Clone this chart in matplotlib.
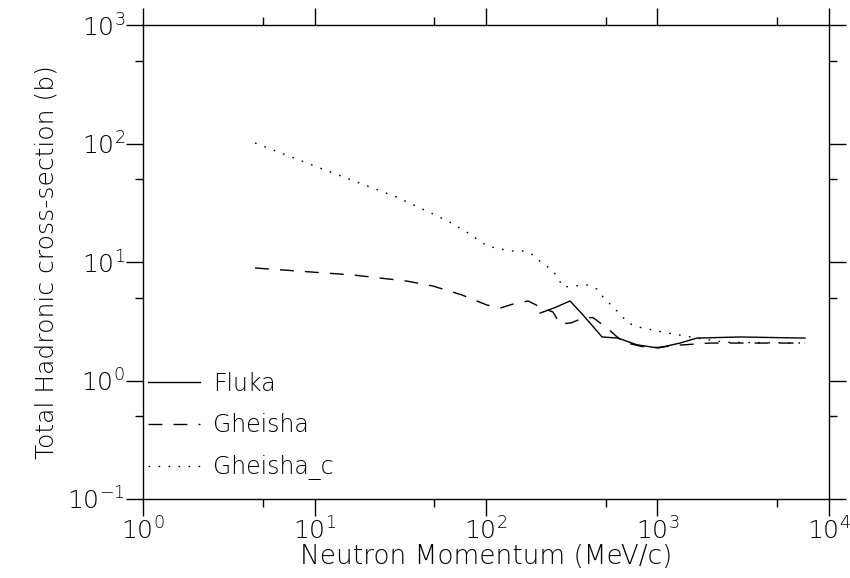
import numpy as np
import matplotlib
matplotlib.use("Agg")
import matplotlib.pyplot as plt
from matplotlib.ticker import LogLocator, NullFormatter

# Fluka (solid)
fluka_p = [207, 250, 309, 368, 475, 589, 759, 1007, 1353, 1698, 3027, 7244]
fluka_xs = [3.71, 4.1, 4.69, 3.57, 2.33, 2.28, 2.0, 1.88, 2.07, 2.28, 2.33, 2.28]

# Gheisha (dashed)
gheisha_p = [4.5, 16.8, 34.6, 49, 72.4, 101, 121, 144, 176, 207, 246, 270,
             313, 368, 420, 508, 629, 820, 1000, 1353, 2024, 7244]
gheisha_xs = [8.9, 7.77, 6.9, 6.27, 5.27, 4.34, 4.09, 4.42, 4.69, 4.17, 3.78, 3.0,
              3.06, 3.37, 3.4, 2.77, 2.11, 1.93, 1.9, 1.99, 2.07, 2.07]

# Gheisha_c (dotted)
gheishac_p = [4.5, 10, 30, 60, 78.5, 102, 138, 164, 188, 212, 243, 263, 281,
              388, 444, 481, 543, 604, 673, 770, 1062, 1698, 2500, 7244]
gheishac_xs = [101, 64.6, 35.4, 22.2, 17.6, 13.6, 12.4, 12.4, 11.5, 9.8, 8.6, 7.3, 6.15,
               6.4, 5.9, 5.07, 4.26, 3.64, 3.06, 2.83, 2.57, 2.28, 2.1, 2.07]

plt.rcParams['font.family'] = ['DejaVu Sans']
plt.rcParams['font.weight'] = 'light'
plt.rcParams['axes.labelweight'] = 'light'
plt.rcParams['text.color'] = 'black'
plt.rcParams['mathtext.fontset'] = 'custom'
plt.rcParams['mathtext.rm'] = 'DejaVu Sans:light'
plt.rcParams['mathtext.default'] = 'rm'

fig = plt.figure(figsize=(8.5, 5.78), dpi=100)
ax = fig.add_axes([143 / 850, 1 - 499 / 578, (829 - 143) / 850, (499 - 25) / 578])

ax.plot(fluka_p, fluka_xs, color='black', lw=1.0, label='Fluka')
ax.plot(gheisha_p, gheisha_xs, color='black', lw=1.0, dashes=(10, 8), label='Gheisha')
ax.plot(gheishac_p, gheishac_xs, color='black', lw=1.0, dashes=(1.2, 6), label='Gheisha_c')

ax.set_xscale('log')
ax.set_yscale('log')
ax.set_xlim(1, 1e4)
ax.set_ylim(0.1, 1e3)

for axis in (ax.xaxis, ax.yaxis):
    axis.set_major_locator(LogLocator(base=10, numticks=10))
    axis.set_minor_locator(LogLocator(base=10, subs=[5], numticks=10))
    axis.set_minor_formatter(NullFormatter())

ax.tick_params(which='both', direction='out', top=True, right=True,
               labeltop=False, labelright=False, width=1.0, color='black',
               labelcolor='black')
ax.tick_params(which='major', length=12, labelsize=18, pad=1)
ax.tick_params(which='minor', length=6)
for s in ax.spines.values():
    s.set_linewidth(1.0)

ax.set_xlabel('Neutron Momentum (MeV/c)', fontsize=19, labelpad=0)
ax.set_ylabel('Total Hadronic cross-section (b)', fontsize=18, labelpad=6)

ax.legend(loc='lower left', bbox_to_anchor=(0.0, 0.03), frameon=False, fontsize=17,
          handlelength=2.2, handletextpad=0.55, labelspacing=0.75, borderaxespad=0.0,
          borderpad=0.2)

fig.savefig('out.png', dpi=100)
